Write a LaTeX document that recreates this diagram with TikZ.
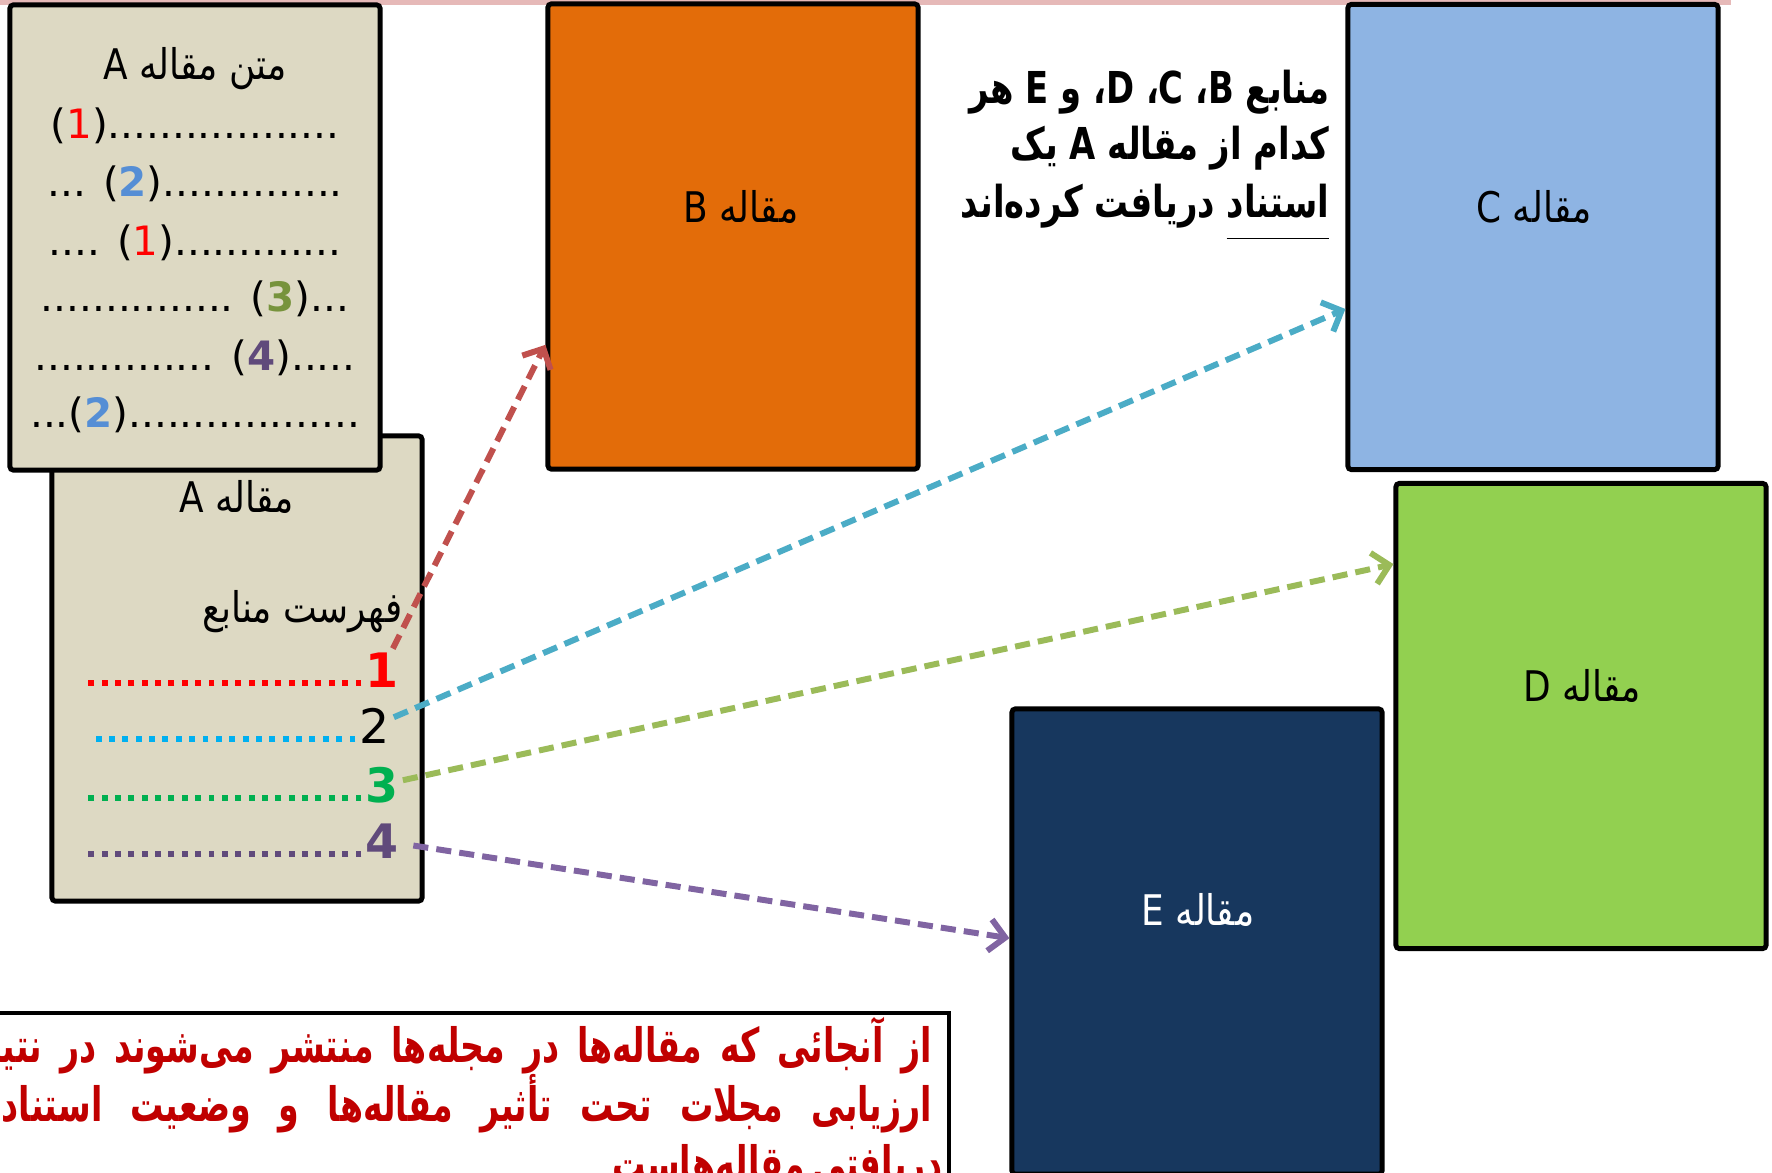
\documentclass[tikz,border=0pt]{standalone}
\usepackage{fontspec}
\usetikzlibrary{arrows.meta}
\setmainfont{DejaVu Sans}
\newfontfamily\farsi[Script=Arabic,FakeStretch=0.85]{DejaVu Sans}
\newfontfamily\farsibf[Script=Arabic,FakeStretch=0.77]{DejaVu Sans}
\newfontfamily\farsinote[Script=Arabic,FakeStretch=0.7]{DejaVu Sans}
\TeXXeTstate=1

\definecolor{paper}{HTML}{DDD9C3}
\definecolor{orangeB}{HTML}{E36C09}
\definecolor{blueC}{HTML}{8EB4E3}
\definecolor{greenD}{HTML}{92D050}
\definecolor{navyE}{HTML}{17375E}
\definecolor{band}{HTML}{E6B9B8}
\definecolor{darkred}{HTML}{C00000}
\definecolor{ref1}{HTML}{FF0000}
\definecolor{ref2}{HTML}{00B0F0}
\definecolor{ref3}{HTML}{00B050}
\definecolor{ref4}{HTML}{604A7B}
\definecolor{num2}{HTML}{558ED5}
\definecolor{num3}{HTML}{77933C}
\definecolor{arr1}{HTML}{C0504D}
\definecolor{arr2}{HTML}{4BACC6}
\definecolor{arr3}{HTML}{9BBB59}
\definecolor{arr4}{HTML}{8064A2}

\begin{document}
\begin{tikzpicture}[x=0.01cm, y=-0.01cm,
	every node/.style={inner sep=0pt, font=\fontsize{12}{14}\selectfont},
	page/.style={draw, line width=1.4pt, rounded corners=1pt, minimum width=3.7cm, minimum height=4.65cm},
	reftext/.style={anchor=base, font=\fontsize{11.5}{14}\selectfont},
	refnum/.style={anchor=base west, font=\fontsize{13.5}{15}\selectfont\bfseries},
	bold/.style={anchor=base east, font=\fontsize{12.5}{15}\selectfont\farsibf\bfseries},
	note/.style={anchor=base east, text=darkred, font=\fontsize{13.5}{16}\selectfont\farsinote\bfseries},
	dotline/.style={line width=1.7pt, dash pattern=on 1.7pt off 2.1pt},
	cite/.style={-{Straight Barb[length=4.5pt,width=9pt]}, line width=1.7pt, dash pattern=on 4.3pt off 2.3pt, shorten <=1pt}]

	\useasboundingbox (0,0) rectangle (1772,1173);
	\clip (0,0) rectangle (1772,1173);

	\fill[band] (0,0) rectangle (1731,5);

	\node[page, fill=paper] (A) at (237,668.5) {};
	\node[page, fill=paper] (txt) at (195,237.5) {};
	\node[page, fill=orangeB] (B) at (733,236.5) {};
	\node[page, fill=blueC] (C) at (1533,237) {};
	\node[page, fill=greenD] (D) at (1581,716) {};
	\node[page, fill=navyE] (E) at (1197,941.5) {};

	\node[anchor=base] (ta) at (195,80) {\farsi\beginR متن مقاله A\endR};
	\node[reftext] (t1) at (195,139) {(\textcolor{ref1}{1})..................};
	\node[reftext] (t2) at (195,197) {... (\textcolor{num2}{\bfseries 2})..............};
	\node[reftext] (t3) at (195,255) {.... (\textcolor{ref1}{1}).............};
	\node[reftext] (t4) at (195,312) {............... (\textcolor{num3}{\bfseries 3})...};
	\node[reftext] (t5) at (195,370) {.............. (\textcolor{ref4}{\bfseries 4}).....};
	\node[reftext] (t6) at (195,427) {...(\textcolor{num2}{\bfseries 2})..................};

	\node[anchor=base] (la) at (237,512) {\farsi\beginR مقاله A\endR};
	\node[anchor=base east] (list) at (403,622) {\farsi\beginR فهرست منابع\endR};
	\node[refnum, text=ref1] (r1) at (365,687) {1};
	\node[refnum, font=\fontsize{13.5}{15}\selectfont] (r2) at (359,743) {2};
	\node[refnum, text=ref3] (r3) at (365,802) {3};
	\node[refnum, text=ref4] (r4) at (365,858) {4};

	\draw[dotline, ref1] ([xshift=-1pt, yshift=1pt]r1.base west) -- ++(-275,0);
	\draw[dotline, ref2] ([xshift=-1pt, yshift=1pt]r2.base west) -- ++(-262,0);
	\draw[dotline, ref3] ([xshift=-1pt, yshift=1pt]r3.base west) -- ++(-275,0);
	\draw[dotline, ref4] ([xshift=-1pt, yshift=1pt]r4.base west) -- ++(-275,0);

	\node (lB) at (741,207) {\farsi\beginR مقاله B\endR};
	\node (lC) at (1534,207) {\farsi\beginR مقاله C\endR};
	\node (lD) at (1582,686) {\farsi\beginR مقاله D\endR};
	\node[text=white] (lE) at (1198,910) {\farsi\beginR مقاله E\endR};

	\node[bold] (s1) at (1330,104) {\beginR منابع B\kern0pt، C\kern0pt، D\kern0pt، و E هر\endR};
	\node[bold] (s2) at (1330,160) {\beginR کدام از مقاله A یک\endR};
	\node[bold] (s3) at (1330,218) {\beginR \underline{\strut استناد} دریافت کرده‌اند\endR};

	\path (r1) edge[cite, arr1] (B.210);
	\path (r2) edge[cite, arr2] (C.201);
	\path (r3) edge[cite, arr3] (D.141);
	\path (r4) edge[cite, arr4, shorten <=4pt] (E.179);

	\draw[line width=1.4pt, fill=white] (-20,1013) rectangle (949,1200);
	\node[note] (m1) at (933,1062) {\makebox[9.73cm][s]{\beginR از آنجائی که مقاله‌ها در مجله‌ها منتشر می‌شوند در نتیجه\endR}};
	\node[note] (m2) at (933,1121) {\makebox[9.3cm][s]{\beginR ارزیابی مجلات تحت تأثیر مقاله‌ها و وضعیت استناد\endR}};
	\node[note] (m3) at (933,1180) {\makebox[3.2cm][s]{\beginR دریافتی مقاله‌هاست\endR}};

\end{tikzpicture}
\end{document}
